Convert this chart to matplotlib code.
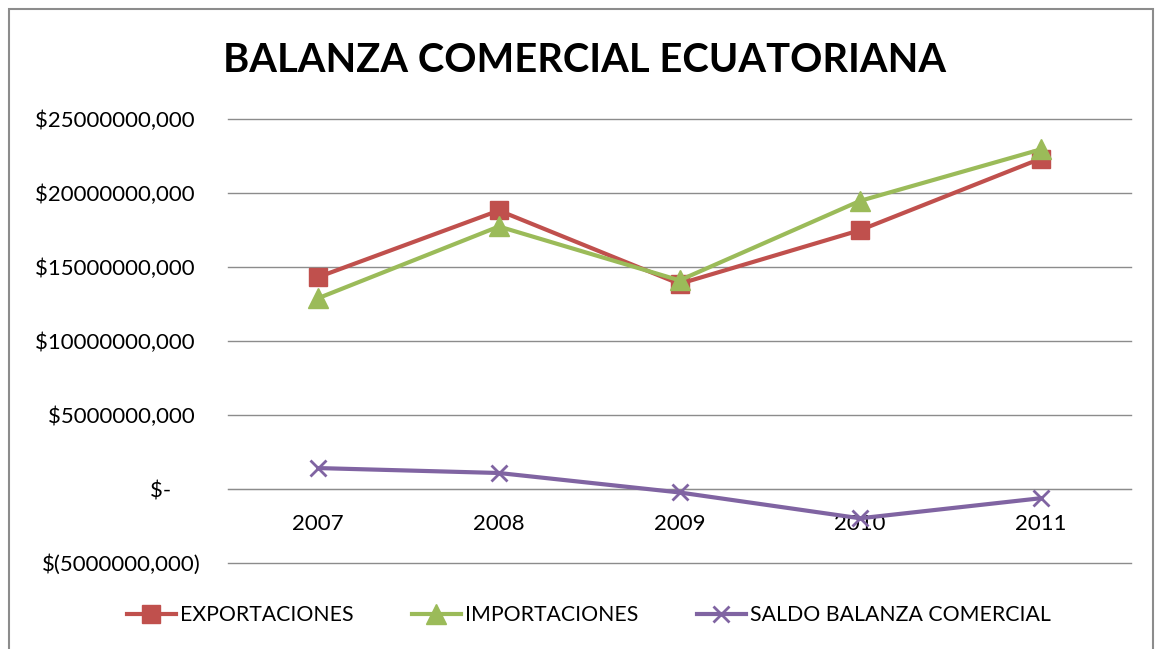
import matplotlib
matplotlib.use("Agg")
import matplotlib.pyplot as plt
from matplotlib.patches import Rectangle

# datos (miles de USD)
anios = ["2007", "2008", "2009", "2010", "2011"]
exportaciones = [14321000, 18818000, 13863000, 17490000, 22322000]
importaciones = [12895000, 17737000, 14097000, 19469000, 22946000]
saldo = [1414000, 1081000, -234000, -1979000, -624000]
y_ticks = [-5000000, 0, 5000000, 10000000, 15000000, 20000000, 25000000]


def formato(v):
    if v == 0:
        return "$-     "
    if v < 0:
        return "$(%d,000)" % (-v)
    return "$%d,000 " % v


plt.rcParams["font.family"] = ["Lato", "DejaVu Sans"]

fig = plt.figure(figsize=(11.59, 6.49), dpi=100)
fig.patches.append(Rectangle((9 / 1159, -0.01), 1144 / 1159, 1 - 9 / 649 + 0.01,
                             transform=fig.transFigure, fill=False,
                             edgecolor="#8c8c8c", lw=1.5))

ax = fig.add_axes([228 / 1159, 1 - 563 / 649, 903 / 1159, 444 / 649])
x = range(len(anios))
ax.plot(x, exportaciones, color="#C0504D", lw=3, marker="s", ms=13,
        label="EXPORTACIONES", zorder=3)
ax.plot(x, importaciones, color="#9BBB59", lw=3, marker="^", ms=14,
        label="IMPORTACIONES", zorder=4)
ax.plot(x, saldo, color="#8064A2", lw=3, marker="x", ms=11, mew=2,
        label="SALDO BALANZA COMERCIAL", zorder=3)

ax.set_xlim(-0.5, 4.5)
ax.set_ylim(-5000000, 25000000)
ax.set_yticks(y_ticks)
ax.set_yticklabels([formato(v) for v in y_ticks])
ax.set_xticks(list(x))
ax.set_xticklabels(anios)
ax.tick_params(axis="y", length=0, pad=20, labelsize=16)
ax.tick_params(axis="x", length=0, pad=18, labelsize=16)
ax.grid(axis="y", color="#8c8c8c", lw=1)
for gl in ax.get_ygridlines():
    gl.set_clip_on(False)
ax.set_axisbelow(True)
for s in ["top", "right", "left"]:
    ax.spines[s].set_visible(False)
ax.spines["bottom"].set_position(("data", 0))
ax.spines["bottom"].set_color("#8c8c8c")

fig.text(0.504, 1 - 60 / 649, "BALANZA COMERCIAL ECUATORIANA", ha="center",
         va="center", fontsize=28.7, fontweight="bold")

fig.legend(loc="center", bbox_to_anchor=(0.508, 1 - 615 / 649), ncol=3,
           frameon=False, fontsize=15.3, handlelength=2.3, columnspacing=2.75,
           handletextpad=0.2)

fig.savefig("out.png", dpi=100)
